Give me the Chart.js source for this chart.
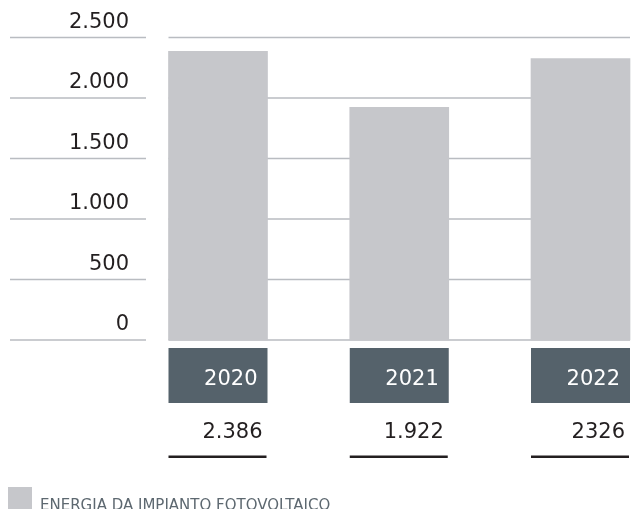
<!DOCTYPE html>
<html>
<head>
<meta charset="utf-8">
<script src="https://cdn.jsdelivr.net/npm/chart.js@4/dist/chart.umd.min.js"></script>
<style>
  html, body { margin: 0; padding: 0; background: #ffffff; }
  #wrap { width: 631px; height: 509px; position: relative; }
</style>
</head>
<body>
<div id="wrap"><canvas id="grafico"></canvas></div>
<script>
// dati
const anni = ['2020', '2021', '2022'];
const energia = [2386, 1922, 2326];
const etichetteValori = ['2.386', '1.922', '2326'];
const tickValori = [0, 500, 1000, 1500, 2000, 2500];
const tickEtichette = ['0', '500', '1.000', '1.500', '2.000', '2.500'];
const legenda = 'ENERGIA DA IMPIANTO FOTOVOLTAICO';

const FONT = '"DejaVu Sans", sans-serif';
const grigioBarra = '#c6c7cb';
const grigioScuro = '#55626b';
const nero = '#231f20';

// griglia, box anni, valori e legenda
const decorazioni = {
    id: 'decorazioni',
    beforeDatasetsDraw(chart) {
        const ctx = chart.ctx;
        const y = chart.scales.y;
        const bars = chart.getDatasetMeta(0).data;
        const first = bars[0], last = bars[bars.length - 1];
        const x0 = first.x - first.width / 2;
        const x1 = last.x + last.width / 2;
        ctx.save();
        ctx.strokeStyle = '#b9bcc1';
        ctx.lineWidth = 1.5;
        tickValori.forEach(v => {
            const py = y.getPixelForValue(v);
            ctx.beginPath();
            ctx.moveTo(10, py);
            ctx.lineTo(146, py);
            ctx.moveTo(x0, py);
            ctx.lineTo(x1, py);
            ctx.stroke();
        });
        ctx.restore();
    },
    afterDatasetsDraw(chart) {
        const ctx = chart.ctx;
        const y0 = chart.scales.y.getPixelForValue(0);
        const bars = chart.getDatasetMeta(0).data;
        ctx.save();
        bars.forEach((bar, i) => {
            const l = bar.x - bar.width / 2;
            const r = bar.x + bar.width / 2;
            // box anno
            ctx.fillStyle = grigioScuro;
            ctx.fillRect(l, y0 + 8, r - l, 55);
            ctx.fillStyle = '#ffffff';
            ctx.font = '21px ' + FONT;
            ctx.textAlign = 'right';
            ctx.textBaseline = 'alphabetic';
            ctx.fillText(anni[i], r - 10, y0 + 45);
            // valore
            ctx.fillStyle = nero;
            ctx.fillText(etichetteValori[i], r - 5, y0 + 98);
            // sottolineatura
            ctx.fillRect(l, y0 + 115.5, r - l - 1, 2.5);
        });
        // legenda
        ctx.fillStyle = grigioBarra;
        ctx.fillRect(8, 487, 24, 26);
        ctx.fillStyle = '#5d6870';
        ctx.font = '15px ' + FONT;
        ctx.textAlign = 'left';
        ctx.fillText(legenda, 40, 510);
        ctx.restore();
    }
};

new Chart(document.getElementById('grafico'), {
    type: 'bar',
    data: {
        labels: anni,
        datasets: [{
            label: legenda,
            data: energia,
            backgroundColor: grigioBarra,
            borderWidth: 0,
            barThickness: 99,
            clip: false
        }]
    },
    options: {
        responsive: true,
        maintainAspectRatio: false,
        animation: false,
        layout: {
            padding: { top: 37.5, bottom: 169, left: 0, right: 50.5 }
        },
        plugins: {
            legend: { display: false },
            tooltip: { enabled: false }
        },
        scales: {
            x: {
                display: false,
                offset: false
            },
            y: {
                min: 0,
                max: 2500,
                grid: { display: false, drawTicks: false },
                border: { display: false },
                afterFit: (s) => {
                    s.width = 218;
                    s.paddingTop = 0;
                    s.paddingBottom = 0;
                },
                afterBuildTicks: (s) => { s.ticks = tickValori.map(v => ({ value: v })); },
                ticks: {
                    padding: 89,
                    labelOffset: -15,
                    color: nero,
                    font: { family: FONT, size: 21 },
                    callback: (v) => tickEtichette[tickValori.indexOf(v)]
                }
            }
        }
    },
    plugins: [decorazioni]
});
</script>
</body>
</html>
